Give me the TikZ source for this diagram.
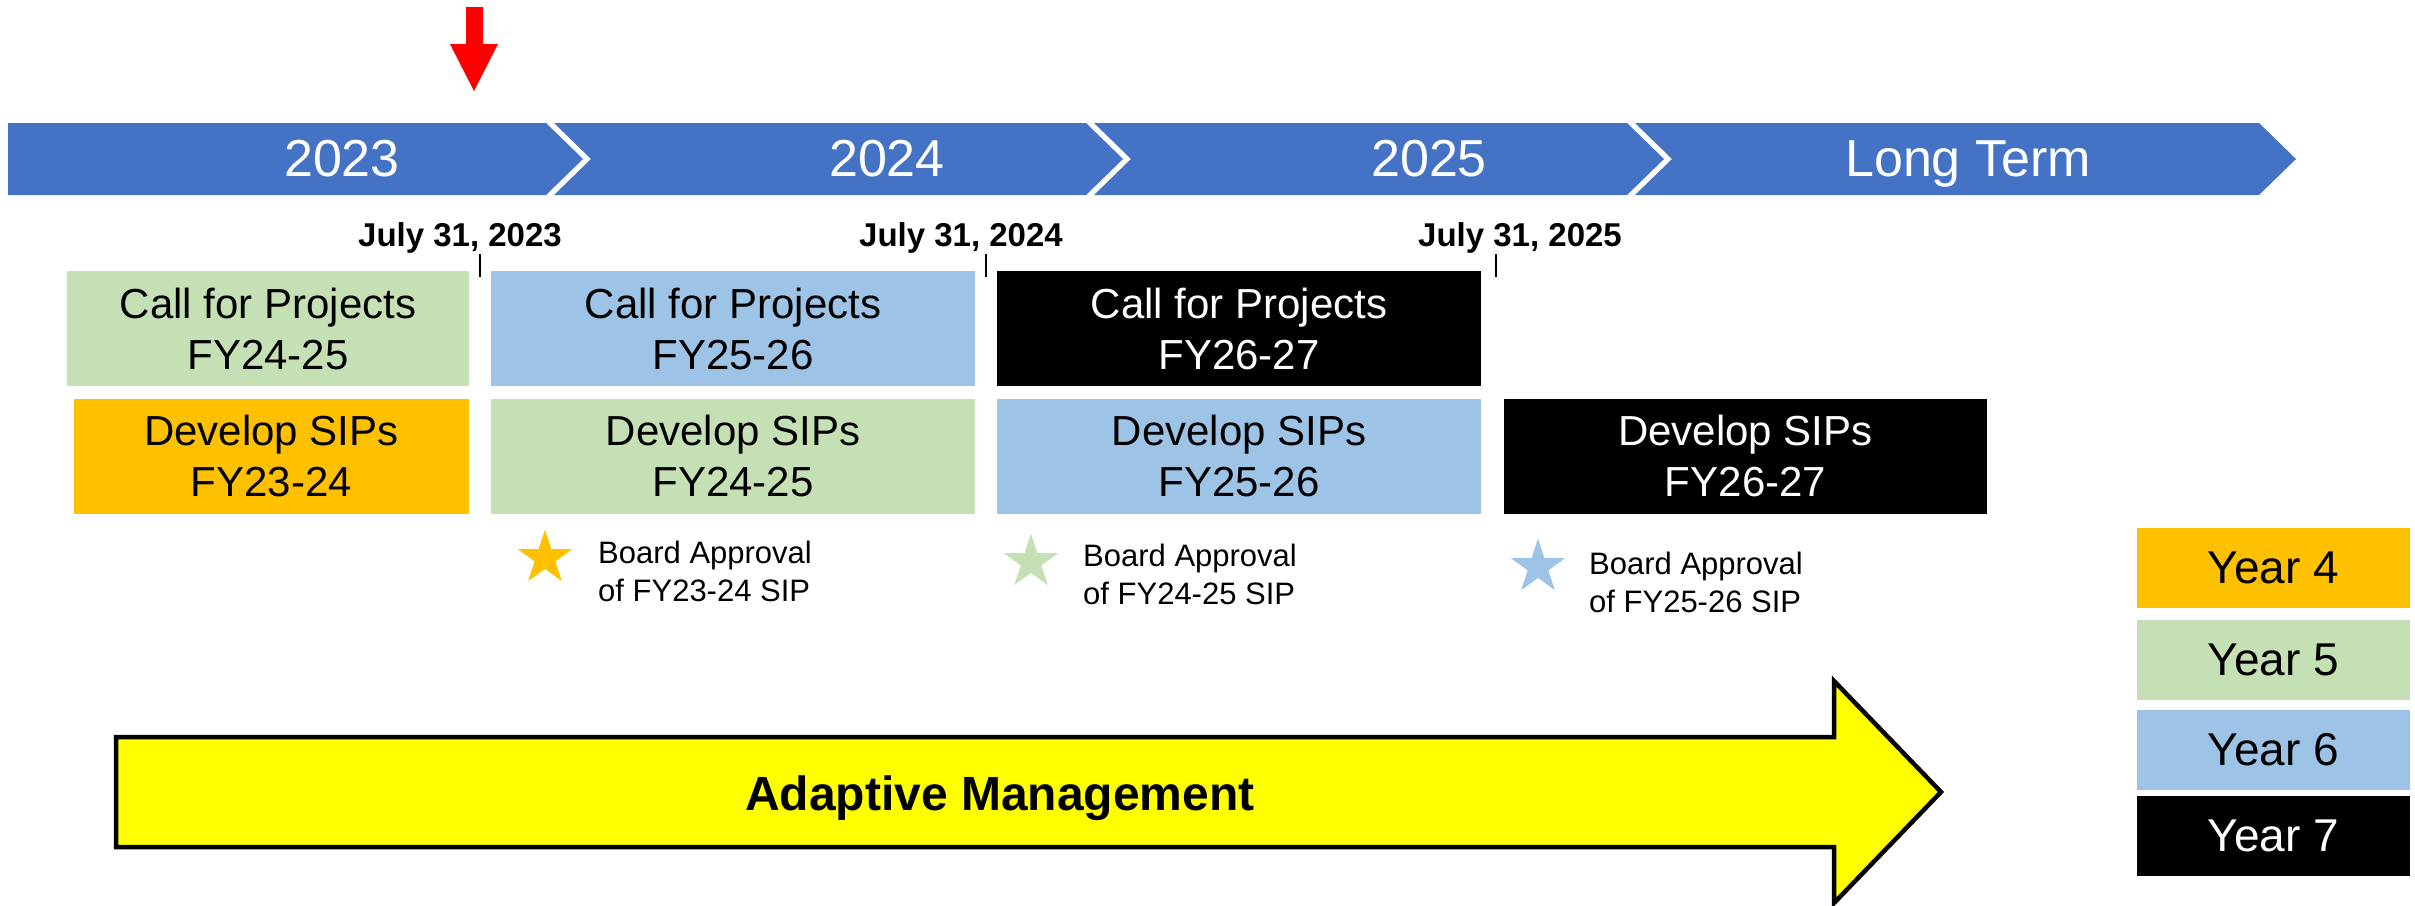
\documentclass[tikz,border=0pt]{standalone}
\usepackage{fontspec}
\setmainfont{Liberation Sans}
\usetikzlibrary{shapes.geometric}
\definecolor{barblue}{HTML}{4472C4}
\definecolor{ygreen}{HTML}{C5E0B4}
\definecolor{yblue}{HTML}{9DC3E6}
\definecolor{yorange}{HTML}{FFC000}
\definecolor{arrowyellow}{HTML}{FFFF00}
\definecolor{markred}{HTML}{FF0000}
\begin{document}
\begin{tikzpicture}[x=1pt,y=-1pt,
  chev/.style={fill=barblue, draw=none},
  barlabel/.style={text=white, font=\fontsize{52}{62}\selectfont, anchor=base, inner sep=0},
  datelabel/.style={font=\bfseries\fontsize{33}{40}\selectfont, anchor=base, inner sep=0},
  ticksty/.style={line width=1.6pt, black},
  taskbox/.style={rectangle, inner sep=0, minimum height=115, align=center, font=\fontsize{42}{51}\selectfont},
  approval/.style={anchor=west, inner sep=0, align=left, font=\fontsize{31}{38}\selectfont},
  starsty/.style={star, star points=5, star point ratio=2.618, minimum size=57, inner sep=0, draw=none},
  legbox/.style={rectangle, inner sep=0, minimum width=273, minimum height=80, font=\fontsize{46}{55}\selectfont},
]
\useasboundingbox (0,0) rectangle (2415,905);
\fill[white] (0,0) rectangle (2415,905);

% red marker arrow
\fill[markred] (466,7) -- (483,7) -- (483,44) -- (498,44) -- (474,91) -- (450,44) -- (466,44) -- cycle;

% chevron timeline bar
\fill[chev] (8,123) -- (546,123) -- (583,159) -- (546,195) -- (8,195) -- cycle;
\fill[chev] (554,123) -- (1086,123) -- (1123,159) -- (1086,195) -- (554,195) -- (591,159) -- cycle;
\fill[chev] (1094,123) -- (1627,123) -- (1664,159) -- (1627,195) -- (1094,195) -- (1131,159) -- cycle;
\fill[chev] (1635,123) -- (2259,123) -- (2296,159) -- (2259,195) -- (1635,195) -- (1672,159) -- cycle;
\node[barlabel] (y23) at (342,176) {2023};
\node[barlabel] (y24) at (887,176) {2024};
\node[barlabel] (y25) at (1429,176) {2025};
\node[barlabel] (ylt) at (1968,176) {Long Term};

% dates and ticks
\node[datelabel] (d23) at (460,246) {July 31, 2023};
\node[datelabel] (d24) at (961,246) {July 31, 2024};
\node[datelabel] (d25) at (1520,246) {July 31, 2025};
\draw[ticksty] (480,254) -- (480,277);
\draw[ticksty] (986,254) -- (986,277);
\draw[ticksty] (1496,254) -- (1496,277);

% call for projects row
\node[taskbox, fill=ygreen, minimum width=402] (c1) at (268,328.5) {Call for Projects\\FY24-25};
\node[taskbox, fill=yblue, minimum width=484] (c2) at (733,328.5) {Call for Projects\\FY25-26};
\node[taskbox, fill=black, text=white, minimum width=484] (c3) at (1239,328.5) {Call for Projects\\FY26-27};

% develop SIPs row
\node[taskbox, fill=yorange, minimum width=395] (p1) at (271.5,456) {Develop SIPs\\FY23-24};
\node[taskbox, fill=ygreen, minimum width=484] (p2) at (733,456) {Develop SIPs\\FY24-25};
\node[taskbox, fill=yblue, minimum width=484] (p3) at (1239,456) {Develop SIPs\\FY25-26};
\node[taskbox, fill=black, text=white, minimum width=483] (p4) at (1745.5,456) {Develop SIPs\\FY26-27};

% board approvals
\node[starsty, fill=yorange] (s1) at (545,558) {};
\node[starsty, fill=ygreen] (s2) at (1031,562) {};
\node[starsty, fill=yblue] (s3) at (1538,567) {};
\node[approval] (a1) at (598,571) {Board Approval\\of FY23-24 SIP};
\node[approval] (a2) at (1083,574) {Board Approval\\of FY24-25 SIP};
\node[approval] (a3) at (1589,582) {Board Approval\\of FY25-26 SIP};

% adaptive management arrow
\draw[line width=4.5pt, fill=arrowyellow, line join=miter] (116,737) -- (1834,737) -- (1834,681) -- (1941,792) -- (1834,903) -- (1834,847) -- (116,847) -- cycle;
\node[font=\bfseries\fontsize{48}{58}\selectfont, anchor=base, inner sep=0] (am) at (1000,810) {Adaptive Management};

% legend
\node[legbox, fill=yorange] (l4) at (2273.5,568) {Year 4};
\node[legbox, fill=ygreen] (l5) at (2273.5,659.5) {Year 5};
\node[legbox, fill=yblue] (l6) at (2273.5,750) {Year 6};
\node[legbox, fill=black, text=white] (l7) at (2273.5,835.5) {Year 7};
\end{tikzpicture}
\end{document}
